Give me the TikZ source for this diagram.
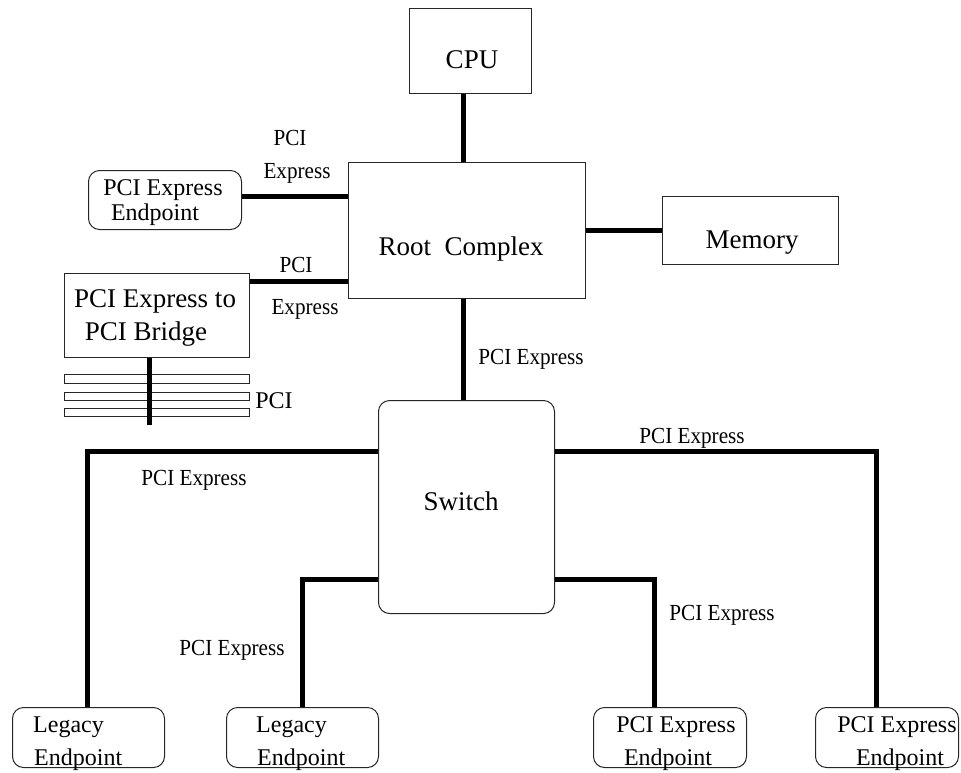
\documentclass[tikz,border=0pt]{standalone}
\usepackage{fontspec}
\setmainfont{Liberation Serif}
\newfontfamily\condfont[FakeStretch=0.92]{Liberation Serif}
\newcommand{\fbig}{\fontsize{27}{27}\selectfont}
\newcommand{\fmid}{\fontsize{24}{24}\selectfont}
\newcommand{\flab}{\condfont\fontsize{23}{23}\selectfont}
\begin{document}
\begin{tikzpicture}[x=1pt,y=-1pt,
  box/.style={draw=black!85,line width=1pt,inner sep=0pt,anchor=north west,fill=white},
  rbox/.style={box,rounded corners=11pt},
  wire/.style={line width=5pt,black,line join=miter},
  bar/.style={draw=black!85,line width=1pt,fill=white},
  txt/.style={inner sep=0pt,anchor=base},
  txtl/.style={inner sep=0pt,anchor=base west}]
\useasboundingbox (0,0) rectangle (961,772);

% boxes
\node[box,minimum width=122pt,minimum height=85pt] (cpu) at (409,8) {};
\node[box,minimum width=237pt,minimum height=136pt] (root) at (348,162) {};
\node[box,minimum width=176pt,minimum height=68pt] (mem) at (662,196) {};
\node[rbox,minimum width=153pt,minimum height=59pt] (ep1) at (88,170) {};
\node[box,minimum width=185pt,minimum height=84pt] (bridge) at (64,273) {};
\node[rbox,minimum width=176pt,minimum height=213pt] (sw) at (378,400) {};
\node[rbox,minimum width=152pt,minimum height=60pt] (leg1) at (12,707) {};
\node[rbox,minimum width=152pt,minimum height=60pt] (leg2) at (226,707) {};
\node[rbox,minimum width=153pt,minimum height=60pt] (ep3) at (593,707) {};
\node[rbox,minimum width=143pt,minimum height=60pt] (ep4) at (815,707) {};

% PCI bus bars
\node[bar,inner sep=0pt,anchor=north west,minimum width=185pt,minimum height=9pt] (bar1) at (64,374) {};
\node[bar,inner sep=0pt,anchor=north west,minimum width=185pt,minimum height=8pt] (bar2) at (64,392) {};
\node[bar,inner sep=0pt,anchor=north west,minimum width=185pt,minimum height=8pt] (bar3) at (64,408) {};
\coordinate (busend) at (149,425);

% texts
\node[txt] (cpuT) at (472,68) {\fbig CPU};
\node[txt] (rootT) at (461,255) {\fbig Root\ \ Complex};
\node[txt] (memT) at (752,248) {\fbig Memory};
\node[txt] (swT) at (461,510) {\fbig Switch};
\node[txt] (brT1) at (155,307) {\fbig PCI Express to};
\node[txt] (brT2) at (146,340) {\fbig PCI Bridge};
\node[txt] (ep1T1) at (163,195) {\fmid PCI Express};
\node[txt] (ep1T2) at (155,220) {\fmid Endpoint};
\node[txtl] (leg1T1) at (33,732) {\fmid Legacy};
\node[txtl] (leg1T2) at (34,765) {\fmid Endpoint};
\node[txtl] (leg2T1) at (256,732) {\fmid Legacy};
\node[txtl] (leg2T2) at (257,765) {\fmid Endpoint};
\node[txt] (ep3T1) at (676,732) {\fmid PCI Express};
\node[txt] (ep3T2) at (668,765) {\fmid Endpoint};
\node[txt] (ep4T1) at (897,732) {\fmid PCI Express};
\node[txt] (ep4T2) at (900,765) {\fmid Endpoint};

% labels
\node[txt] (l1a) at (290,145) {\flab PCI};
\node[txt] (l1b) at (297,178) {\flab Express};
\node[txt] (l2a) at (296,272) {\flab PCI};
\node[txt] (l2b) at (305,314) {\flab Express};
\node[txt] (lbus) at (274,408) {\fmid PCI};
\node[txt] (l3) at (531,364) {\flab PCI Express};
\node[txt] (l4) at (194,485) {\flab PCI Express};
\node[txt] (l5) at (692,443) {\flab PCI Express};
\node[txt] (l6) at (232,655) {\flab PCI Express};
\node[txt] (l7) at (722,620) {\flab PCI Express};

% wires
\draw[wire] (cpu.south -| 463,0) -- (root.north -| 463,0);
\draw[wire] (root.east) -- (mem.west);
\draw[wire] (ep1.east |- 0,196) -- (root.west |- 0,196);
\draw[wire] (bridge.east |- 0,281) -- (root.west |- 0,281);
\draw[wire] (root.south -| 463,0) -- (sw.north -| 463,0);
\draw[wire] (sw.west |- 0,451) -| (leg1.north -| 87,0);
\draw[wire] (sw.west |- 0,579) -| (leg2.north -| 302,0);
\draw[wire] (sw.east |- 0,579) -| (ep3.north -| 654,0);
\draw[wire] (sw.east |- 0,451) -| (ep4.north -| 876,0);
\draw[wire] (bridge.south -| 149,0) -- (busend);
\end{tikzpicture}
\end{document}
